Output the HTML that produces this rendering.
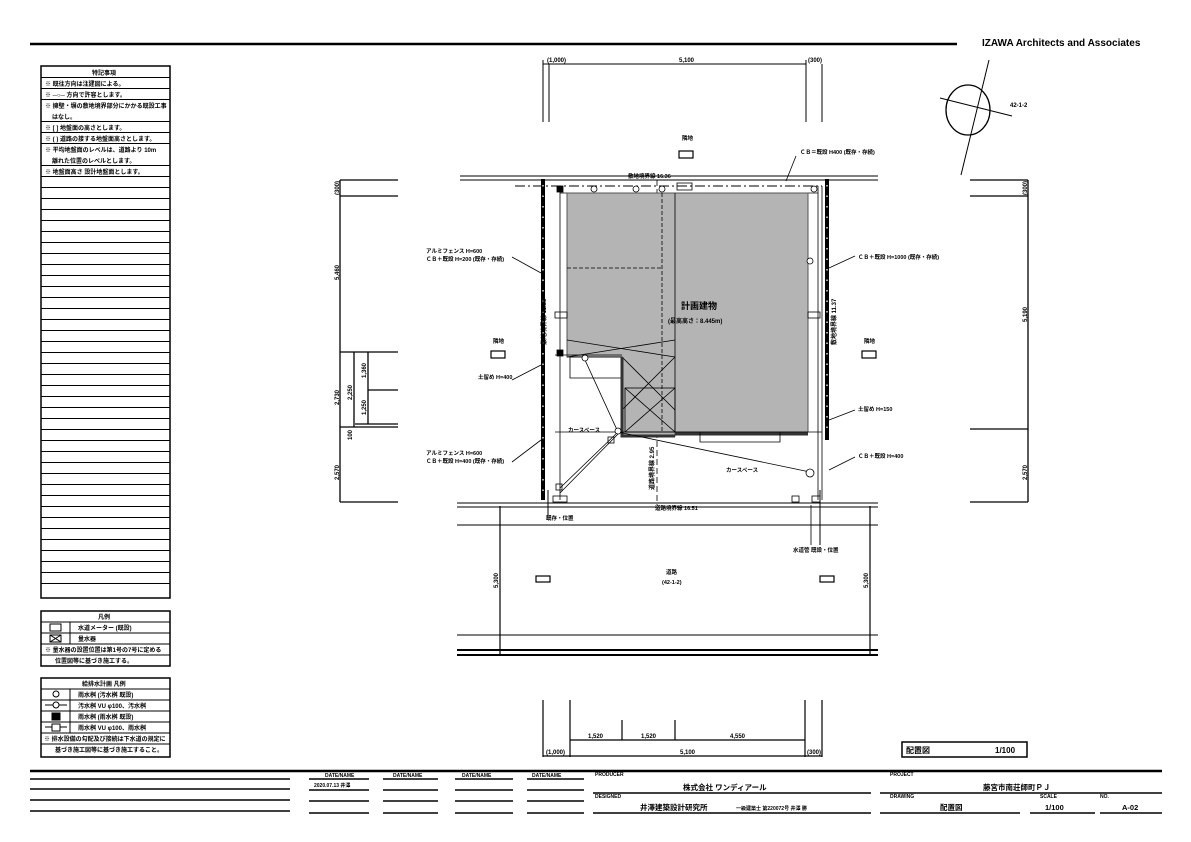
<!DOCTYPE html>
<html><head><meta charset="utf-8"><style>
html,body{margin:0;padding:0;background:#fff}
svg{display:block}
text{font-family:"Liberation Sans","Noto Sans CJK JP",sans-serif;font-weight:bold;fill:#000}
</style></head><body>
<svg width="1191" height="842" viewBox="0 0 1191 842" xmlns="http://www.w3.org/2000/svg">
<g stroke="#000" fill="none">
<!-- top border -->
<line x1="30" y1="44" x2="957" y2="44" stroke-width="2.5"/>
</g>
<text x="982" y="46" font-size="10">IZAWA Architects and Associates</text>

<!-- left notes table -->
<g stroke="#000" fill="none" stroke-width="1">
<rect x="41" y="66" width="129" height="532" stroke-width="1.5"/>
<path d="M41 77.5H170 M41 88.5H170 M41 99.5H170 M41 121.5H170 M41 132.5H170 M41 143.5H170 M41 165.5H170 M41 176.5H170
M41 187.5H170 M41 198.5H170 M41 209.5H170 M41 220.5H170 M41 231.5H170 M41 242.5H170 M41 253.5H170 M41 264.5H170 M41 275.5H170 M41 286.5H170 M41 297.5H170 M41 308.5H170 M41 319.5H170 M41 330.5H170 M41 341.5H170 M41 352.5H170 M41 363.5H170 M41 374.5H170 M41 385.5H170 M41 396.5H170 M41 407.5H170 M41 418.5H170 M41 429.5H170 M41 440.5H170 M41 451.5H170 M41 462.5H170 M41 473.5H170 M41 484.5H170 M41 495.5H170 M41 506.5H170 M41 517.5H170 M41 528.5H170 M41 539.5H170 M41 550.5H170 M41 561.5H170 M41 572.5H170 M41 583.5H170"/>
</g>
<g font-size="6">
<text x="92" y="75">特記事項</text>
<text x="45" y="86">※ 既往方向は注建図による。</text>
<text x="45" y="97">※ ─○─ 方向で許容とします。</text>
<text x="45" y="108">※ 擁壁・塀の敷地境界部分にかかる既設工事</text>
<text x="52" y="119">はなし。</text>
<text x="45" y="130">※ [ ]  地盤面の高さとします。</text>
<text x="45" y="141">※ ( )  道路の接する地盤面高さとします。</text>
<text x="45" y="152">※ 平均地盤面のレベルは、道路より 10m</text>
<text x="52" y="163">離れた位置のレベルとします。</text>
<text x="45" y="174">※ 地盤面高さ 設計地盤面とします。</text>
</g>

<!-- legend 1 -->
<g stroke="#000" fill="none">
<rect x="41" y="611" width="129" height="55" stroke-width="1.5"/>
<path d="M41 622H170 M41 633H170 M41 644H170 M41 655H170 M70 622V644"/>
<rect x="50" y="624" width="11" height="7"/><rect x="50" y="635" width="11" height="7"/><path d="M50 635L61 642M61 635L50 642"/>
<rect x="41" y="678" width="129" height="79" stroke-width="1.5"/>
<path d="M41 689H170 M41 700H170 M41 711H170 M41 722H170 M41 733H170 M41 744H170 M70 689V733"/>
<circle cx="56" cy="694" r="3"/><circle cx="56" cy="705" r="3"/><path d="M45 705H53M59 705H67"/>
<rect x="52" y="713" width="8" height="7" fill="#000"/><rect x="52" y="724" width="8" height="7"/><path d="M45 727H52M60 727H67"/>
</g>
<g font-size="6">
<text x="98" y="619">凡例</text>
<text x="78" y="630">水道メーター (既設)</text><text x="78" y="641">量水器</text>
<text x="45" y="652">※ 量水器の設置位置は第1号の7号に定める</text>
<text x="55" y="663">位置図等に基づき施工する。</text>
<text x="82" y="686">給排水計画 凡例</text>
<text x="78" y="697">雨水桝 (汚水桝 既設)</text><text x="78" y="708">汚水桝 VU φ100、汚水桝</text>
<text x="78" y="719">雨水桝 (雨水桝 既設)</text><text x="78" y="730">雨水桝 VU φ100、雨水桝</text>
<text x="44" y="741">※ 排水設備の勾配及び接続は下水道の規定に</text>
<text x="55" y="752">基づき施工図等に基づき施工すること。</text>
</g>

<!-- top dimensions -->
<g stroke="#000" fill="none" stroke-width="1">
<path d="M543 64H806 M543 60V122 M549 64V122 M806 60V122 M822 64V122"/>
<!-- left neighbor -->
<path d="M340 180V502 M340 180H398 M340 196H398 M340 352H398 M354 352V427 M340 427H398 M368 352V424 M368 390H398 M355 424H398 M340 502H398" stroke-width="1.3"/>
<!-- right neighbor -->
<path d="M1028 180V502 M970 180H1028 M970 196H1028 M970 429H1028 M970 502H1028" stroke-width="1.3"/>
<!-- top boundary -->
<path d="M460 180H878 M460 176H878" stroke-width="1"/>
<path d="M515 186H822" stroke-dasharray="10,3,2,3"/>
<!-- fences -->
<line x1="543" y1="179" x2="543" y2="500" stroke-width="4"/>
<line x1="543" y1="185" x2="543" y2="495" stroke="#fff" stroke-width="1.3" stroke-dasharray="1.5,9"/>
<line x1="827" y1="179" x2="827" y2="440" stroke-width="4"/>
<line x1="827" y1="185" x2="827" y2="435" stroke="#fff" stroke-width="1.3" stroke-dasharray="1.5,9"/>
<path d="M822 186V500 M818 186V500 M560 186V500" stroke-width="0.8"/>
<path d="M560 193H818" stroke-width="0.8"/>
<!-- road -->
<path d="M457 503H878 M457 507H878 M457 525H878 M457 635H878 M457 650H878 M457 655H878" stroke-width="1"/>
<path d="M457 650H878 M457 655H878" stroke-width="2"/>
<path d="M500 506V655 M870 506V655" stroke-width="1.2"/>
<path d="M657 180V505" stroke-dasharray="6,3" stroke-width="0.8"/>
<path d="M820 490V545" stroke-width="1"/>
<path d="M548 490V520" stroke-width="1"/>
</g>

<!-- building -->
<path d="M567 193H808V432H675V436H622V357H567Z" fill="#b4b4b4" stroke="#555" stroke-width="1"/>
<g stroke="#000" fill="none" stroke-width="0.8">
<path d="M675 193V432"/>
<path d="M567 268H662" stroke-dasharray="4,2"/>
<path d="M662 193V432" stroke-dasharray="4,2"/>
<path d="M567 340L675 357 M567 357L675 340"/>
<path d="M622 357L675 410 M622 410L675 357"/>
<rect x="625" y="388" width="50" height="44"/>
<path d="M625 388L675 432 M625 432L675 388"/>
<path d="M570 357H622V378H570Z"/>
<path d="M622 357V436H675" stroke-width="3" stroke="#333"/>
<path d="M675 434H808" stroke-width="3" stroke="#333"/>
<path d="M700 432V442H780V432"/>
<path d="M555 432H822 M555 355H622"/>
<path d="M585 360L618 432 L810 472 M618 432L560 488 M620 432L560 493"/>
<circle cx="594" cy="189" r="3" fill="#fff"/><circle cx="636" cy="189" r="3" fill="#fff"/><circle cx="662" cy="189" r="3" fill="#fff"/>
<circle cx="814" cy="189" r="3" fill="#fff"/><circle cx="810" cy="261" r="3" fill="#fff"/>
<circle cx="585" cy="358" r="3" fill="#fff"/><circle cx="618" cy="431" r="3" fill="#fff"/><circle cx="810" cy="473" r="4" fill="#fff"/>
<rect x="557" y="186" width="6" height="6" fill="#000"/><rect x="557" y="350" width="6" height="6" fill="#000"/>
<rect x="608" y="437" width="6" height="6"/><rect x="556" y="484" width="6" height="6"/><rect x="792" y="496" width="7" height="6"/><rect x="812" y="496" width="8" height="6"/>
<rect x="677" y="183" width="15" height="7"/><rect x="553" y="496" width="14" height="6"/>
<rect x="808" y="312" width="12" height="6"/><rect x="555" y="312" width="12" height="6"/>
<rect x="679" y="151" width="14" height="7" stroke-width="1.2"/>
<rect x="491" y="351" width="14" height="7" stroke-width="1.2"/>
<rect x="862" y="351" width="14" height="7" stroke-width="1.2"/>
<rect x="536" y="576" width="14" height="6" stroke-width="1.2"/>
<rect x="820" y="576" width="14" height="6" stroke-width="1.2"/>
<!-- leaders -->
<path d="M512 257L541 273 M512 380L541 365 M512 462L541 440 M829 268L855 256 M829 420L855 410 M829 470L855 457 M786 181L796 156 M811 505V545"/>
</g>
<g font-size="5.5">
<text x="682" y="140">隣地</text><text x="493" y="343">隣地</text><text x="864" y="343">隣地</text>
<text x="628" y="178">敷地境界線 16.36</text>
<text x="655" y="510">道路境界線 16.51</text>
<text x="800" y="154">ＣＢ＝既設 H400 (既存・存続)</text>
<text x="426" y="253">アルミフェンス H=600</text><text x="426" y="261">ＣＢ＋既設 H=200 (既存・存続)</text>
<text x="478" y="379">土留め H=400</text>
<text x="426" y="455">アルミフェンス H=600</text><text x="426" y="463">ＣＢ＋既設 H=400 (既存・存続)</text>
<text x="858" y="259">ＣＢ＋既設 H=1000 (既存・存続)</text>
<text x="858" y="411">土留め H=150</text>
<text x="858" y="458">ＣＢ＋既設 H=400</text>
<text x="568" y="432">カースペース</text>
<text x="726" y="472">カースペース</text>
<text x="546" y="520">既存・位置</text>
<text x="793" y="552">水道管 既設・位置</text>
<text x="666" y="574">道路</text><text x="662" y="584">(42-1-2)</text>
</g>
<text x="681" y="309" font-size="9" font-weight="normal">計画建物</text>
<text x="668" y="323" font-size="6">(最高高さ：8.445m)</text>
<g font-size="6">
<text x="547" y="62">(1,000)</text><text x="679" y="62">5,100</text><text x="808" y="62">(300)</text>
<text transform="translate(339,195) rotate(-90)">(300)</text>
<text transform="translate(339,280) rotate(-90)">5,460</text>
<text transform="translate(339,405) rotate(-90)">2,730</text>
<text transform="translate(352,400) rotate(-90)">2,250</text>
<text transform="translate(366,378) rotate(-90)">1,360</text>
<text transform="translate(366,415) rotate(-90)">1,250</text>
<text transform="translate(352,440) rotate(-90)">100</text>
<text transform="translate(339,480) rotate(-90)">2,570</text>
<text transform="translate(1027,195) rotate(-90)">(300)</text>
<text transform="translate(1027,322) rotate(-90)">5,190</text>
<text transform="translate(1027,480) rotate(-90)">2,570</text>
<text transform="translate(498,588) rotate(-90)">5,300</text>
<text transform="translate(868,588) rotate(-90)">5,300</text>
<text transform="translate(546,345) rotate(-90)">敷地境界線 11.35</text>
<text transform="translate(836,345) rotate(-90)">敷地境界線 11.37</text>
<text transform="translate(654,490) rotate(-90)">道路境界線 2.95</text>
</g>

<!-- compass -->
<g stroke="#000" fill="none" stroke-width="1">
<ellipse cx="968" cy="110" rx="22" ry="25" stroke-width="1.3"/>
<path d="M989 60L961 175 M940 98L1012 116"/>
</g>
<text x="1010" y="107" font-size="6">42-1-2</text>

<!-- bottom dimensions -->
<g stroke="#000" fill="none" stroke-width="1.2">
<path d="M543 700V757 M570 700V757 M805 700V757 M822 700V757 M622 720V740 M675 720V740 M570 740H805 M543 756H822"/>
<rect x="902" y="742" width="125" height="15" stroke-width="1.5"/>
</g>
<g font-size="6">
<text x="588" y="738">1,520</text><text x="641" y="738">1,520</text><text x="730" y="738">4,550</text>
<text x="546" y="754">(1,000)</text><text x="680" y="754">5,100</text><text x="807" y="754">(300)</text>
</g>
<text x="906" y="753" font-size="8">配置図</text><text x="995" y="753" font-size="8" font-weight="normal">1/100</text>

<!-- title block -->
<g stroke="#000" fill="none" stroke-width="1.5">
<line x1="30" y1="771" x2="1162" y2="771" stroke-width="2.5"/>
<path d="M30 779H290 M30 789H290 M30 800H290 M30 811H290"/>
<path d="M309 779H369 M383 779H438 M455 779H513 M527 779H584"/>
<path d="M309 790H369 M383 790H438 M455 790H513 M527 790H584"/>
<path d="M309 801H369 M383 801H438 M455 801H513 M527 801H584"/>
<path d="M309 813H369 M383 813H438 M455 813H513 M527 813H584"/>
<path d="M593 793H871 M593 813H871 M880 793H1162 M880 813H1020 M1030 813H1095 M1100 813H1162"/>
</g>
<g font-size="5">
<text x="325" y="777">DATE/NAME</text><text x="393" y="777">DATE/NAME</text><text x="462" y="777">DATE/NAME</text><text x="532" y="777">DATE/NAME</text>
<text x="314" y="787">2020.07.13  井澤</text>
<text x="595" y="776">PRODUCER</text><text x="595" y="798">DESIGNED</text>
<text x="890" y="776">PROJECT</text><text x="890" y="798">DRAWING</text><text x="1040" y="798">SCALE</text><text x="1100" y="798">NO.</text>
<text x="736" y="810">一級建築士 第220072号 井澤 勝</text>
</g>
<text x="683" y="790" font-size="7.5">株式会社 ワンディアール</text>
<text x="983" y="790" font-size="7.5">藤宮市南荘師町ＰＪ</text>
<text x="640" y="810" font-size="7.5">井澤建築設計研究所</text>
<text x="940" y="810" font-size="7.5">配置図</text>
<text x="1045" y="810" font-size="7.5" font-weight="normal">1/100</text>
<text x="1122" y="810" font-size="7.5" font-weight="normal">A-02</text>
</svg>
</body></html>
